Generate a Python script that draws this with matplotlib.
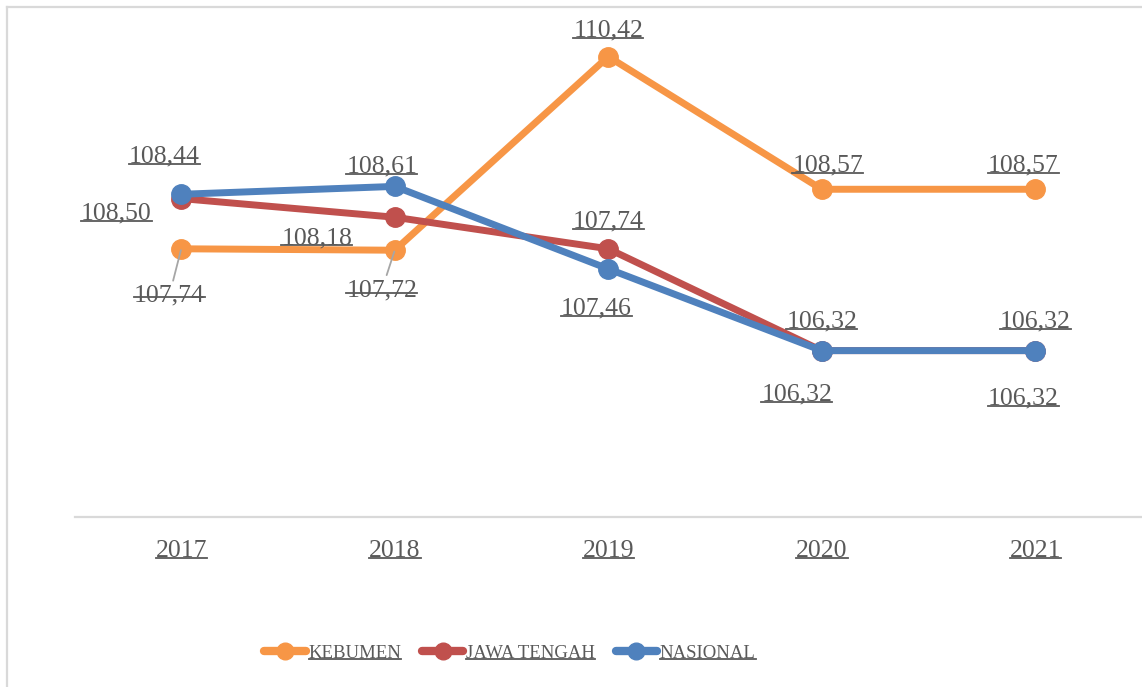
import matplotlib
matplotlib.use("Agg")
import matplotlib.pyplot as plt
from matplotlib.lines import Line2D

# data
years = ["2017", "2018", "2019", "2020", "2021"]
kebumen = [107.74, 107.72, 110.42, 108.57, 108.57]
jawa_tengah = [108.44, 108.18, 107.74, 106.32, 106.32]
nasional = [108.50, 108.61, 107.46, 106.32, 106.32]
series_names = ["KEBUMEN", "JAWA TENGAH", "NASIONAL"]

colors = ["#F79646", "#C0504D", "#4F81BD"]
txt_color = "#595959"
grid_color = "#D9D9D9"

# label offsets in pixels (dx, dy) from each point, as placed in the original
offsets = [
    [(-12, -47), (-13, -40), (0, 26), (6, 24), (-12, 24)],
    [(-17, 42), (-78, -21), (0, 27), (0, 29), (0, 29)],
    [(-65, -19), (-13, 20), (-12, -40), (-25, -44), (-12, -48)],
]
leaders = [[True, True, False, False, False], [False] * 5, [False] * 5]

plt.rcParams['font.family'] = ['Liberation Serif', 'DejaVu Serif']

W, H = 1142, 687
fig = plt.figure(figsize=(W / 100, H / 100), dpi=100)
ax = fig.add_axes([74.5 / W, 1 - 517 / H, 1067.5 / W, 502 / H])

x = list(range(len(years)))
lines = []
for vals, c, name in zip([kebumen, jawa_tengah, nasional], colors, series_names):
    ln, = ax.plot(x, vals, color=c, lw=5, marker='o', markersize=14,
                  solid_capstyle='round', label=name, zorder=3)
    lines.append(ln)

texts = []
for s, vals in enumerate([kebumen, jawa_tengah, nasional]):
    for i, v in enumerate(vals):
        lbl = f"{v:.2f}".replace(".", ",")
        dx, dy = offsets[s][i]
        kw = {}
        if leaders[s][i]:
            kw['arrowprops'] = dict(arrowstyle='-', color='#A6A6A6', lw=1.3,
                                    shrinkA=1, shrinkB=1)
        t = ax.annotate(lbl, (i, v), xytext=(dx, dy), textcoords='offset pixels',
                        ha='center', va='center', fontsize=18.5, color=txt_color,
                        zorder=5, **kw)
        texts.append(t)

ax.set_xlim(-0.5, 4.5)
ax.set_ylim(104, 111)
ax.set_yticks([])
ax.set_xticks(x)
ax.set_xticklabels(years, fontsize=18.5, color=txt_color)
ax.tick_params(axis='x', length=0, pad=16.5)
for side in ['top', 'left', 'right']:
    ax.spines[side].set_visible(False)
ax.spines['bottom'].set_color(grid_color)
ax.spines['bottom'].set_linewidth(1.6)
ax.patch.set_alpha(0)

leg = fig.legend(lines, series_names, ncol=3, loc='center',
                 bbox_to_anchor=(510 / W, 1 - 653 / H), frameon=False,
                 prop={'size': 13.5}, handlelength=2.2, handletextpad=0.15,
                 columnspacing=1.1, labelcolor=txt_color)
for h in leg.legend_handles:
    h.set_markersize(12)
    h.set_linewidth(6)

# chart border (only left and top visible in the original)
fig.add_artist(Line2D([7 / W, 7 / W], [0, 1 - 7 / H], transform=fig.transFigure,
                      color=grid_color, lw=1.6))
fig.add_artist(Line2D([7 / W, 1], [1 - 7 / H, 1 - 7 / H], transform=fig.transFigure,
                      color=grid_color, lw=1.6))

# underline every text like the original
fig.canvas.draw()
r = fig.canvas.get_renderer()
all_texts = texts + list(ax.get_xticklabels()) + list(leg.get_texts())
for t in all_texts:
    bb = t.get_window_extent(r)
    y = bb.y0 + bb.height * 0.17
    fig.add_artist(Line2D([bb.x0 / W, bb.x1 / W], [y / H, y / H],
                          transform=fig.transFigure, color=txt_color, lw=1.3))

fig.savefig("out.png", dpi=100)
